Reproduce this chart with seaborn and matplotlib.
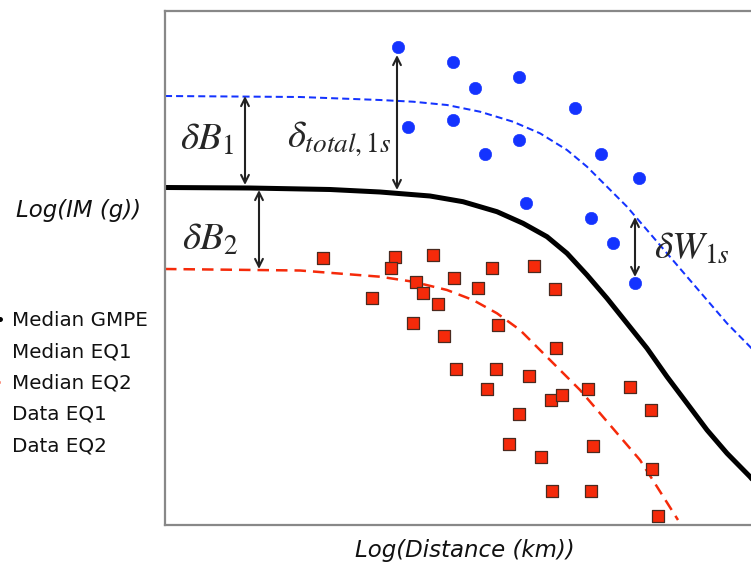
import matplotlib
matplotlib.use("Agg")
import matplotlib.pyplot as plt
import seaborn as sns
import pandas as pd

# ---- data (log-distance, log-IM in arbitrary units) ----
gmpe_x = [0.00, 0.85, 1.65, 2.15, 2.65, 2.98, 3.32, 3.58, 3.82, 4.02, 4.22, 4.42,
          4.62, 4.82, 5.02, 5.22, 5.42, 5.62, 5.85, 6.05]
gmpe_y = [3.375, 3.37, 3.355, 3.33, 3.29, 3.233, 3.133, 3.017, 2.883, 2.717, 2.50, 2.267,
          2.017, 1.767, 1.483, 1.217, 0.95, 0.717, 0.483, 0.25]

eq1_med_x = [0.00, 1.35, 2.15, 2.48, 2.82, 3.15, 3.48, 3.75, 4.02, 4.22, 4.42, 4.62,
             4.82, 5.02, 5.22, 5.42, 5.62, 5.85, 6.05]
eq1_med_y = [4.29, 4.28, 4.25, 4.233, 4.20, 4.133, 4.033, 3.917, 3.75, 3.583, 3.383, 3.183,
             2.95, 2.717, 2.483, 2.25, 2.017, 1.783, 1.55]

eq2_med_x = [0.00, 1.35, 2.15, 2.48, 2.82, 3.08, 3.32, 3.55, 3.75, 3.95, 4.15, 4.35,
             4.55, 4.75, 4.92, 5.13]
eq2_med_y = [2.56, 2.545, 2.483, 2.433, 2.35, 2.25, 2.117, 1.95, 1.75, 1.55, 1.35, 1.117,
             0.883, 0.65, 0.383, 0.05]

eq1_data_x = [2.33, 2.88, 3.54, 3.10, 4.10, 2.43, 2.88, 3.54, 3.20, 4.36, 4.74, 3.61, 4.26, 4.48, 4.70]
eq1_data_y = [4.78, 4.63, 4.48, 4.37, 4.17, 3.98, 4.05, 3.85, 3.71, 3.71, 3.47, 3.22, 3.07, 2.82, 2.42]

eq2_data_x = [1.58, 2.30, 2.26, 2.68, 3.27, 3.69, 2.07, 2.51, 2.58, 2.89, 3.13, 2.73,
              3.90, 2.48, 3.33, 2.79, 3.91, 2.91, 3.31, 3.64, 3.22, 3.86, 3.97, 4.23,
              4.65, 4.86, 3.54, 3.44, 4.28, 3.76, 4.87, 3.87, 4.26, 4.93]
eq2_data_y = [2.67, 2.68, 2.57, 2.70, 2.57, 2.59, 2.27, 2.43, 2.32, 2.47, 2.37, 2.21,
              2.36, 2.02, 2.00, 1.89, 1.77, 1.56, 1.56, 1.49, 1.36, 1.25, 1.30, 1.36,
              1.38, 1.15, 1.11, 0.81, 0.79, 0.68, 0.56, 0.34, 0.34, 0.09]

legend_labels = ["Median GMPE", "Median EQ1", "Median EQ2", "Data EQ1", "Data EQ2"]

BLUE = "#1433ff"
RED = "#f52a0a"

sns.set_theme(style="white")
plt.rcParams["font.family"] = ["DejaVu Sans"]
plt.rcParams["mathtext.fontset"] = "stix"

W, H = 751, 570
fig = plt.figure(figsize=(W / 100, H / 100), dpi=100)
# axes frame: left 165px, top 11px, bottom 525px, right beyond canvas
ax = fig.add_axes([165 / W, (H - 525) / H, 625 / W, (525 - 11) / H])
ax.set_xlim(0, 6.25)
ax.set_ylim(0, 5.14)

gmpe = pd.DataFrame({"x": gmpe_x, "y": gmpe_y})
eq1m = pd.DataFrame({"x": eq1_med_x, "y": eq1_med_y})
eq2m = pd.DataFrame({"x": eq2_med_x, "y": eq2_med_y})
eq1d = pd.DataFrame({"x": eq1_data_x, "y": eq1_data_y})
eq2d = pd.DataFrame({"x": eq2_data_x, "y": eq2_data_y})

sns.lineplot(data=gmpe, x="x", y="y", sort=False, color="black", lw=3.6,
             ax=ax, label=legend_labels[0])
sns.lineplot(data=eq1m, x="x", y="y", sort=False, color=BLUE, lw=1.45,
             ax=ax, label=legend_labels[1]).lines[-1].set_dashes([3.5, 2.0])
sns.lineplot(data=eq2m, x="x", y="y", sort=False, color=RED, lw=1.8,
             ax=ax, label=legend_labels[2]).lines[-1].set_dashes([4.6, 2.8])
sns.scatterplot(data=eq1d, x="x", y="y", color=BLUE, marker="o", s=80,
                edgecolor=BLUE, linewidth=0.4, ax=ax, label=legend_labels[3], zorder=4)
sns.scatterplot(data=eq2d, x="x", y="y", color=RED, marker="s", s=80,
                edgecolor="#4a2a20", linewidth=0.9, ax=ax, label=legend_labels[4], zorder=4)

# arrows
arrow_kw = dict(arrowstyle="<->", color="#222222", lw=1.5, mutation_scale=14,
                shrinkA=0, shrinkB=0)
for (xa, y0, y1) in [(0.80, 4.29, 3.40), (0.94, 3.35, 2.56),
                     (2.32, 4.70, 3.35), (4.70, 3.08, 2.48)]:
    ax.annotate("", xy=(xa, y1), xytext=(xa, y0), arrowprops=arrow_kw)

ax.text(0.42, 3.86, r"$\delta B_1$", fontsize=28, ha="center", va="center")
ax.text(0.45, 2.86, r"$\delta B_2$", fontsize=28, ha="center", va="center")
ax.text(1.74, 3.86, r"$\delta_{total,1s}$", fontsize=28, ha="center", va="center")
ax.text(5.27, 2.77, r"$\delta W_{1s}$", fontsize=28, ha="center", va="center")

# frame
for side in ["left", "right", "top", "bottom"]:
    ax.spines[side].set_visible(True)
    ax.spines[side].set_color("#888888")
    ax.spines[side].set_linewidth(1.6)
ax.set_xticks([])
ax.set_yticks([])
ax.set_xlabel("")
ax.set_ylabel("")

fig.text(79 / W, (H - 210) / H, "Log(IM (g))", fontsize=16.5, style="italic",
         ha="center", va="center", color="#111111")
fig.text(465 / W, (H - 551) / H, "Log(Distance (km))", fontsize=16.5, style="italic",
         ha="center", va="center", color="#111111")

handles, labels = ax.get_legend_handles_labels()
ax.legend_.remove()
fs = 14.3
fs_px = fs * 100 / 72
left_px = 12 - (2.0 + 0.6) * fs_px
fig.legend(handles, labels, loc="center left",
           bbox_to_anchor=(left_px / W, (H - 383) / H), bbox_transform=fig.transFigure,
           frameon=False, fontsize=fs, borderpad=0, borderaxespad=0,
           handlelength=2.0, handletextpad=0.6, labelspacing=0.62,
           labelcolor="#111111")

fig.savefig("out.png", dpi=100)
